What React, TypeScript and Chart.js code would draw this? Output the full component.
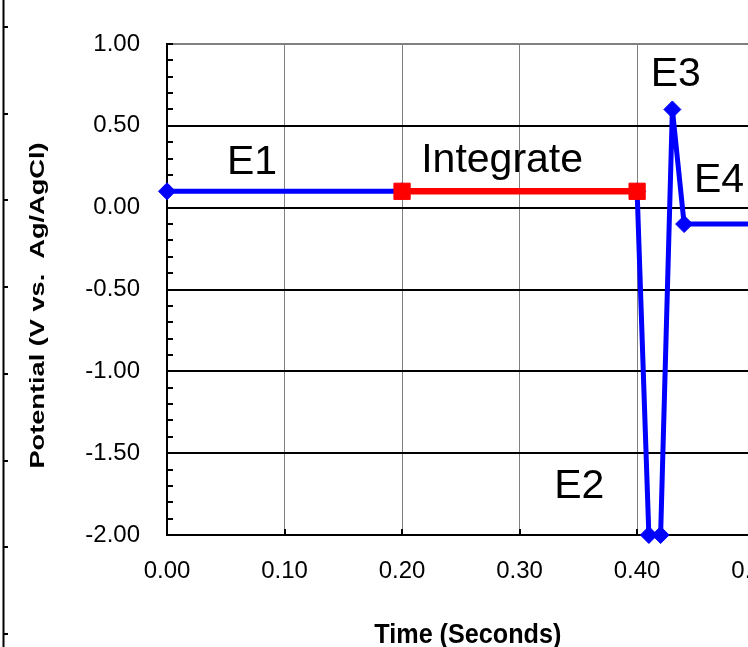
import React, { useEffect, useRef } from "react";
import { Chart, registerables } from "chart.js";

Chart.register(...registerables);

// ---- data ----
const stepTimes = [0, 0.2, 0.4, 0.41, 0.42, 0.43, 0.44, 0.5];
const stepPotentials = [0.1, 0.1, 0.1, -2.0, -2.0, 0.6, -0.1, -0.1];
const integrateTimes = [0.2, 0.4];
const integratePotentials = [0.1, 0.1];

const stageLabels = ["E1", "Integrate", "E2", "E3", "E4"];
const stageLabelTimes = [0.051, 0.2163, 0.3295, 0.4116, 0.4484];
const stageLabelPotentials = [0.206, 0.216, -1.771, 0.745, 0.093];

const xAxisTitle = "Time (Seconds)";
const yAxisTitle = "Potential (V vs.  Ag/AgCl)";

const X_MIN = 0;
const X_MAX = 0.5;
const X_STEP = 0.1;
const Y_MIN = -2;
const Y_MAX = 1;
const Y_STEP = 0.5;
const Y_MINOR = 0.1;

const FONT = "'Liberation Sans', Arial, Helvetica, sans-serif";
const CANVAS_W = 800;
const CANVAS_H = 647;

const decorPlugin = {
  id: "decor",
  beforeDatasetsDraw(chart: any) {
    const { ctx, chartArea, scales } = chart;
    const x = scales.x;
    const y = scales.y;
    ctx.save();
    ctx.strokeStyle = "#000";
    ctx.lineWidth = 2;
    const nMinor = Math.round((Y_MAX - Y_MIN) / Y_MINOR);
    for (let i = 0; i <= nMinor; i++) {
      const py = Math.round(y.getPixelForValue(Y_MIN + i * Y_MINOR));
      ctx.beginPath();
      ctx.moveTo(chartArea.left, py);
      ctx.lineTo(chartArea.left + 6, py);
      ctx.stroke();
    }
    const nX = Math.round((X_MAX - X_MIN) / X_STEP);
    for (let i = 0; i <= nX; i++) {
      const px = Math.round(x.getPixelForValue(X_MIN + i * X_STEP));
      ctx.beginPath();
      ctx.moveTo(px, chartArea.bottom);
      ctx.lineTo(px, chartArea.bottom - 6);
      ctx.stroke();
    }
    ctx.restore();
  },
  afterDraw(chart: any) {
    const { ctx, chartArea, scales } = chart;
    const x = scales.x;
    const y = scales.y;
    ctx.save();
    // outer frame line with ticks on the far left
    ctx.strokeStyle = "#000";
    ctx.lineWidth = 2;
    ctx.beginPath();
    ctx.moveTo(3.5, 0);
    ctx.lineTo(3.5, CANVAS_H);
    ctx.stroke();
    for (let i = 0; i < 8; i++) {
      const ty = Math.round(27 + i * 86.7);
      ctx.beginPath();
      ctx.moveTo(3, ty);
      ctx.lineTo(8, ty);
      ctx.stroke();
    }

    // stage annotations
    ctx.fillStyle = "#000";
    ctx.font = `41px ${FONT}`;
    ctx.textAlign = "left";
    ctx.textBaseline = "alphabetic";
    stageLabels.forEach((t, i) => {
      ctx.fillText(
        t,
        x.getPixelForValue(stageLabelTimes[i]),
        y.getPixelForValue(stageLabelPotentials[i])
      );
    });

    // x axis title
    ctx.font = `bold 28px ${FONT}`;
    ctx.textAlign = "center";
    const xw = ctx.measureText(xAxisTitle).width;
    const sx = 187 / xw;
    ctx.save();
    ctx.translate((chartArea.left + chartArea.right) / 2 + 7, chartArea.bottom + 108);
    ctx.scale(sx, 1);
    ctx.fillText(xAxisTitle, 0, 0);
    ctx.restore();

    // y axis title
    ctx.font = `bold 21px ${FONT}`;
    ctx.textAlign = "center";
    ctx.textBaseline = "middle";
    const yw = ctx.measureText(yAxisTitle).width;
    const sy = 326 / yw;
    ctx.save();
    ctx.translate(38, (chartArea.top + chartArea.bottom) / 2 + 16);
    ctx.rotate(-Math.PI / 2);
    ctx.scale(sy, 1);
    ctx.fillText(yAxisTitle, 0, 0);
    ctx.restore();

    ctx.restore();
  },
};

export default function App() {
  const ref = useRef<HTMLCanvasElement | null>(null);

  useEffect(() => {
    if (!ref.current) return;
    const chart = new Chart(ref.current, {
      type: "line",
      data: {
        datasets: [
          {
            label: "Integrate",
            data: integrateTimes.map((t, i) => ({ x: t, y: integratePotentials[i] })),
            borderColor: "#ff0000",
            backgroundColor: "#ff0000",
            borderWidth: 6.5,
            pointStyle: "rect",
            pointRadius: 11.5,
            pointBorderWidth: 1,
            pointBorderColor: "#ff0000",
            pointBackgroundColor: "#ff0000",
            order: 0,
            clip: false as any,
            tension: 0,
          },
          {
            label: "Potential",
            data: stepTimes.map((t, i) => ({ x: t, y: stepPotentials[i] })),
            borderColor: "#0000ff",
            backgroundColor: "#0000ff",
            borderWidth: 5,
            pointStyle: "rectRot",
            pointRadius: 8.5,
            pointBorderWidth: 1,
            pointBorderColor: "#0000ff",
            pointBackgroundColor: "#0000ff",
            order: 1,
            clip: false as any,
            tension: 0,
          },
        ],
      },
      options: {
        responsive: false,
        animation: false,
        events: [],
        layout: { padding: { left: 0, top: 44, right: CANVAS_W - 755.7, bottom: 0 } },
        plugins: {
          legend: { display: false },
          tooltip: { enabled: false },
          title: { display: false },
        },
        scales: {
          x: {
            type: "linear",
            min: X_MIN,
            max: X_MAX,
            afterFit: (s: any) => {
              s.height = CANVAS_H - 535;
            },
            ticks: {
              stepSize: X_STEP,
              callback: (v: any) => Number(v).toFixed(2),
              font: { family: FONT, size: 24 },
              color: "#000",
              padding: 22,
              maxRotation: 0,
            },
            grid: { color: "#808080", lineWidth: 1, drawTicks: false },
            border: { color: "#000", width: 2 },
          },
          y: {
            type: "linear",
            min: Y_MIN,
            max: Y_MAX,
            afterFit: (s: any) => {
              s.width = 167;
            },
            ticks: {
              stepSize: Y_STEP,
              callback: (v: any) => Number(v).toFixed(2),
              font: { family: FONT, size: 24 },
              color: "#000",
              padding: 27,
            },
            grid: {
              color: (c: any) => (c.tick && c.tick.value === Y_MAX ? "#808080" : "#000"),
              lineWidth: 2,
              drawTicks: false,
            },
            border: { color: "#000", width: 2 },
          },
        },
      },
      plugins: [decorPlugin],
    });
    return () => chart.destroy();
  }, []);

  return (
    <div
      style={{
        position: "absolute",
        left: 0,
        top: 0,
        width: 748,
        height: 647,
        overflow: "hidden",
        background: "#fff",
      }}
    >
      <canvas ref={ref} width={CANVAS_W} height={CANVAS_H} style={{ width: CANVAS_W, height: CANVAS_H, display: "block" }} />
    </div>
  );
}
